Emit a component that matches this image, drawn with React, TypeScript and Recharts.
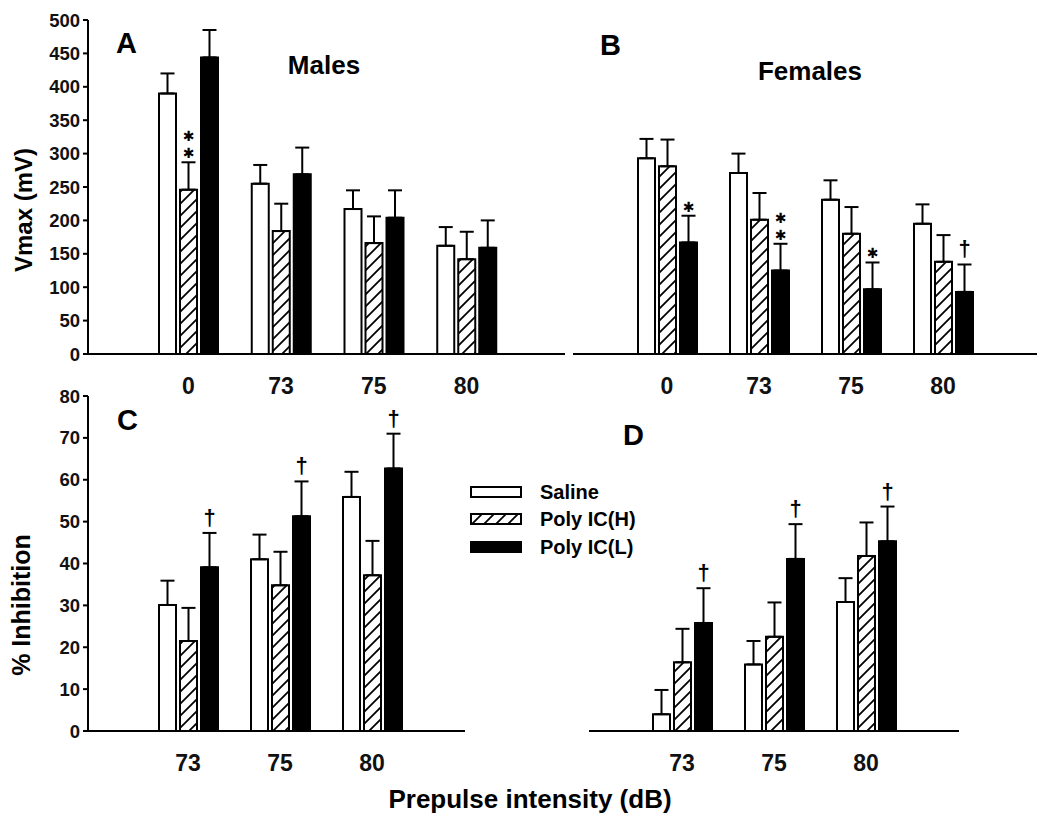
import { BarChart, Bar, XAxis, YAxis, ErrorBar, LabelList } from 'recharts';

const FONT = '"Liberation Sans", Arial, Helvetica, sans-serif';

// top row: Vmax (mV) by prepulse intensity
const topDoses = ['0', '73', '75', '80'];
const malesSaline = [390, 255, 217, 162];
const malesSalineSem = [30, 28, 28, 28];
const malesHigh = [246, 184, 166, 142];
const malesHighSem = [41, 41, 40, 41];
const malesLow = [444, 269, 204, 159];
const malesLowSem = [41, 40, 41, 41];
const malesHighMarks = ['**', '', '', ''];

const femalesSaline = [293, 271, 231, 195];
const femalesSalineSem = [29, 29, 29, 29];
const femalesHigh = [281, 201, 180, 138];
const femalesHighSem = [40, 40, 40, 40];
const femalesLow = [167, 125, 97, 93];
const femalesLowSem = [40, 40, 40, 41];
const femalesLowMarks = ['*', '**', '*', '†'];

// bottom row: % inhibition
const bottomDoses = ['73', '75', '80'];
const ppiMSaline = [30.1, 41.0, 55.9];
const ppiMSalineSem = [5.8, 5.9, 6.0];
const ppiMHigh = [21.5, 34.8, 37.2];
const ppiMHighSem = [7.9, 8.0, 8.2];
const ppiMLow = [39.1, 51.3, 62.7];
const ppiMLowSem = [8.2, 8.3, 8.3];
const ppiMLowMarks = ['†', '†', '†'];

const ppiFSaline = [4.0, 15.9, 30.8];
const ppiFSalineSem = [5.8, 5.6, 5.7];
const ppiFHigh = [16.4, 22.5, 41.8];
const ppiFHighSem = [8.0, 8.2, 8.0];
const ppiFLow = [25.8, 41.1, 45.3];
const ppiFLowSem = [8.3, 8.3, 8.3];
const ppiFLowMarks = ['†', '†', '†'];

const vmaxTicks = [0, 50, 100, 150, 200, 250, 300, 350, 400, 450, 500];
const ppiTicks = [0, 10, 20, 30, 40, 50, 60, 70, 80];

function rows(doses, s, sSem, h, hSem, l, lSem) {
  return doses.map((dose, i) => ({
    dose,
    saline: s[i],
    salineErr: [0, sSem[i]],
    high: h[i],
    highErr: [0, hSem[i]],
    low: l[i],
    lowErr: [0, lSem[i]],
  }));
}

const malesData = rows(topDoses, malesSaline, malesSalineSem, malesHigh, malesHighSem, malesLow, malesLowSem);
const femalesData = rows(topDoses, femalesSaline, femalesSalineSem, femalesHigh, femalesHighSem, femalesLow, femalesLowSem);
const ppiMData = rows(bottomDoses, ppiMSaline, ppiMSalineSem, ppiMHigh, ppiMHighSem, ppiMLow, ppiMLowSem);
const ppiFData = rows(bottomDoses, ppiFSaline, ppiFSalineSem, ppiFHigh, ppiFHighSem, ppiFLow, ppiFLowSem);

// significance marker drawn above the error bar cap
const marker = (marks: string[], sem: number[]) => (props: any) => {
  const vb = props.viewBox ?? props;
  const { x, y, width, height } = vb;
  const i = props.index;
  const m = marks[i];
  if (!m || !props.value) return null;
  const top = y - sem[i] * (height / props.value);
  const cx = x + width / 2;
  if (m === '†') {
    return (
      <text x={cx} y={top - 8} textAnchor="middle" fontSize={22} fontWeight={700} fontFamily={FONT} fill="#000">
        †
      </text>
    );
  }
  return (
    <g>
      {m.split('').map((_, k) => (
        <text
          key={k}
          x={cx}
          y={top - 4 - k * 17}
          textAnchor="middle"
          fontSize={14}
          fontFamily='"DejaVu Sans", sans-serif'
          fill="#000"
        >
          ✱
        </text>
      ))}
    </g>
  );
};

function Hatch({ id }: { id: string }) {
  return (
    <defs>
      <pattern id={id} patternUnits="userSpaceOnUse" width={12} height={12}>
        <rect width={12} height={12} fill="#fff" />
        <path d="M0,12 L12,0 M-3,3 L3,-3 M9,15 L15,9" stroke="#000" strokeWidth={1.8} />
      </pattern>
    </defs>
  );
}

const tickStyle = { fontSize: 18.5, fontWeight: 700, fill: '#111', fontFamily: FONT };
const xTickStyle = { fontSize: 23, fontWeight: 700, fill: '#111', fontFamily: FONT };

function Panel({ id, data, left, top, width, height, margin, domain, ticks, showY, padding, marks }: any) {
  return (
    <div style={{ position: 'absolute', left, top }}>
      <BarChart width={width} height={height} data={data} margin={margin} barSize={17} barGap={4}>
        <Hatch id={id} />
        <XAxis
          dataKey="dose"
          interval={0}
          height={40}
          padding={padding}
          axisLine={{ stroke: '#000', strokeWidth: 2 }}
          tickLine={false}
          tickMargin={18}
          tick={xTickStyle}
        />
        <YAxis
          type="number"
          hide={!showY}
          domain={domain}
          ticks={ticks}
          allowDataOverflow
          width={88}
          axisLine={{ stroke: '#000', strokeWidth: 2 }}
          tickLine={{ stroke: '#000', strokeWidth: 2 }}
          tickSize={5}
          tickMargin={3}
          tick={tickStyle}
        />
        <Bar dataKey="saline" fill="#fff" stroke="#000" strokeWidth={2} isAnimationActive={false}>
          <ErrorBar dataKey="salineErr" width={7} stroke="#000" strokeWidth={2} />
        </Bar>
        <Bar dataKey="high" fill={`url(#${id})`} stroke="#000" strokeWidth={2} isAnimationActive={false}>
          <ErrorBar dataKey="highErr" width={7} stroke="#000" strokeWidth={2} />
          {marks.high && <LabelList dataKey="high" content={marker(marks.high, marks.highSem)} />}
        </Bar>
        <Bar dataKey="low" fill="#000" stroke="#000" strokeWidth={2} isAnimationActive={false}>
          <ErrorBar dataKey="lowErr" width={7} stroke="#000" strokeWidth={2} />
          {marks.low && <LabelList dataKey="low" content={marker(marks.low, marks.lowSem)} />}
        </Bar>
      </BarChart>
    </div>
  );
}

export default function App() {
  return (
    <div style={{ position: 'absolute', left: 0, top: 0, width: 1050, height: 817, background: '#fff', fontFamily: FONT }}>
      <Panel
        id="hatchA"
        data={malesData}
        left={0}
        top={0}
        width={570}
        height={400}
        margin={{ top: 20, right: 5, bottom: 6, left: 0 }}
        domain={[0, 500]}
        ticks={vmaxTicks}
        showY
        padding={{ left: 54, right: 52 }}
        marks={{ high: malesHighMarks, highSem: malesHighSem }}
      />
      <Panel
        id="hatchB"
        data={femalesData}
        left={560}
        top={0}
        width={490}
        height={400}
        margin={{ top: 20, right: 13, bottom: 6, left: 13 }}
        domain={[0, 500]}
        ticks={vmaxTicks}
        showY={false}
        padding={{ left: 48, right: 48 }}
        marks={{ low: femalesLowMarks, lowSem: femalesLowSem }}
      />
      <Panel
        id="hatchC"
        data={ppiMData}
        left={0}
        top={380}
        width={470}
        height={420}
        margin={{ top: 16, right: 5, bottom: 29, left: 0 }}
        domain={[0, 80]}
        ticks={ppiTicks}
        showY
        padding={{ left: 54, right: 47 }}
        marks={{ low: ppiMLowMarks, lowSem: ppiMLowSem }}
      />
      <Panel
        id="hatchD"
        data={ppiFData}
        left={570}
        top={380}
        width={400}
        height={420}
        margin={{ top: 16, right: 11, bottom: 29, left: 19 }}
        domain={[0, 80]}
        ticks={ppiTicks}
        showY={false}
        padding={{ left: 47, right: 47 }}
        marks={{ low: ppiFLowMarks, lowSem: ppiFLowSem }}
      />
      <svg width={1050} height={817} style={{ position: 'absolute', left: 0, top: 0, pointerEvents: 'none' }}>
        <Hatch id="hatchLegend" />
        <g fontFamily={FONT} fontWeight={700} fill="#000">
          <text x={116} y={53} fontSize={29}>A</text>
          <text x={324} y={74} fontSize={26} textAnchor="middle">Males</text>
          <text x={600} y={55} fontSize={29}>B</text>
          <text x={810} y={80} fontSize={26} textAnchor="middle">Females</text>
          <text x={117} y={430} fontSize={29}>C</text>
          <text x={623} y={445} fontSize={29}>D</text>
          <text transform="translate(32,210) rotate(-90)" fontSize={24} textAnchor="middle">Vmax (mV)</text>
          <text transform="translate(30,605) rotate(-90)" fontSize={25} textAnchor="middle">% Inhibition</text>
          <text x={530} y={808} fontSize={26} textAnchor="middle">Prepulse intensity (dB)</text>
          <rect x={471} y={487} width={50} height={10} fill="#fff" stroke="#000" strokeWidth={2} />
          <rect x={471} y={514} width={50} height={10} fill="url(#hatchLegend)" stroke="#000" strokeWidth={2} />
          <rect x={471} y={542} width={50} height={10} fill="#000" stroke="#000" strokeWidth={2} />
          <text x={540} y={499} fontSize={20}>Saline</text>
          <text x={540} y={526} fontSize={20}>Poly IC(H)</text>
          <text x={540} y={554} fontSize={20}>Poly IC(L)</text>
        </g>
      </svg>
    </div>
  );
}
